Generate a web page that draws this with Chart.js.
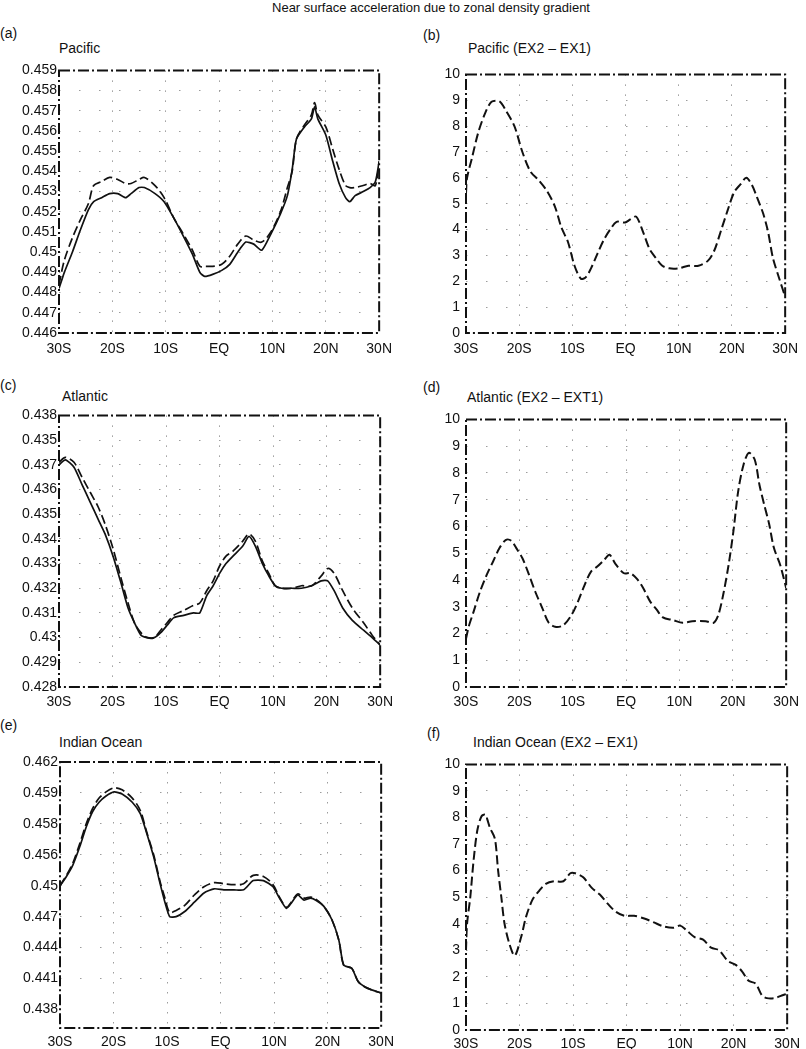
<!DOCTYPE html>
<html>
<head>
<meta charset="utf-8">
<script src="https://cdn.jsdelivr.net/npm/chart.js@4.4.1/dist/chart.umd.min.js"></script>
<style>
  body { margin: 0; background: #fff; font-family: "Liberation Sans", Arial, sans-serif; color: #111; }
  #page { position: relative; width: 806px; height: 1049px; overflow: hidden; }
  .lbl { position: absolute; font-size: 14px; line-height: 16px; white-space: nowrap; }
  canvas { position: absolute; }
</style>
</head>
<body>
<div id="page">
  <div class="lbl" style="left:0;top:0;width:862px;text-align:center;font-size:13px;">Near surface acceleration due to zonal density gradient</div>

  <div class="lbl" style="left:0;top:25px;">(a)</div>
  <div class="lbl" style="left:59px;top:40px;">Pacific</div>
  <div class="lbl" style="left:423px;top:27px;">(b)</div>
  <div class="lbl" style="left:468px;top:40px;">Pacific (EX2 – EX1)</div>

  <div class="lbl" style="left:0;top:377px;">(c)</div>
  <div class="lbl" style="left:62px;top:388px;">Atlantic</div>
  <div class="lbl" style="left:423px;top:379px;">(d)</div>
  <div class="lbl" style="left:467px;top:389px;">Atlantic (EX2 – EXT1)</div>

  <div class="lbl" style="left:0;top:717px;">(e)</div>
  <div class="lbl" style="left:59px;top:734px;">Indian Ocean</div>
  <div class="lbl" style="left:427px;top:725px;">(f)</div>
  <div class="lbl" style="left:473px;top:734px;">Indian Ocean (EX2 – EX1)</div>

  <canvas id="chartA" width="400" height="300" style="left:0;top:60px;"></canvas>
  <canvas id="chartB" width="406" height="300" style="left:400px;top:60px;"></canvas>
  <canvas id="chartC" width="400" height="304" style="left:0;top:405px;"></canvas>
  <canvas id="chartD" width="406" height="304" style="left:400px;top:405px;"></canvas>
  <canvas id="chartE" width="400" height="299" style="left:0;top:750px;"></canvas>
  <canvas id="chartF" width="406" height="299" style="left:400px;top:750px;"></canvas>
</div>

<script>
// x axis (latitude)
var latTicks = [-30, -20, -10, 0, 10, 20, 30];
var latLabels = ["30S", "20S", "10S", "EQ", "10N", "20N", "30N"];

// (a) Pacific
var latA = [-30, -29, -27.5, -26, -24.5, -23.5, -22, -20.5, -19, -17.5, -16.5, -15, -14, -12, -10.3, -8.5, -6.7, -5, -3.6, -2.7, -1.2, 0.5, 2, 3.5, 5, 6.5, 8, 9.7, 11.5, 12.8, 13.7, 14.5, 16, 17.3, 17.9, 18.5, 20, 21.3, 22.5, 23.7, 24.5, 25.5, 27, 28.3, 29.3, 30];
var pacEx1 = [0.4482, 0.4490, 0.4500, 0.4511, 0.4521, 0.4525, 0.4527, 0.4529, 0.4529, 0.4527, 0.4529, 0.4532, 0.4532, 0.4529, 0.4525, 0.4517, 0.4508, 0.4499, 0.4490, 0.4488, 0.4489, 0.4491, 0.4494, 0.4500, 0.4505, 0.4504, 0.4501, 0.4509, 0.4519, 0.4528, 0.4541, 0.4556, 0.4562, 0.4566, 0.4572, 0.4566, 0.4558, 0.4545, 0.4534, 0.4527, 0.4525, 0.4528, 0.4530, 0.4532, 0.4535, 0.4545];
var pacEx2 = [0.4484, 0.4496, 0.4507, 0.4516, 0.4524, 0.4533, 0.4535, 0.4537, 0.4536, 0.4534, 0.4534, 0.4536, 0.4537, 0.4533, 0.4527, 0.4517, 0.4509, 0.4501, 0.4493, 0.4493, 0.4493, 0.4494, 0.4498, 0.4504, 0.4508, 0.4506, 0.4505, 0.4510, 0.4520, 0.4532, 0.4540, 0.4556, 0.4563, 0.4568, 0.4574, 0.4568, 0.4562, 0.4551, 0.4541, 0.4533, 0.4532, 0.4532, 0.4533, 0.4534, 0.4533, 0.4545];
var ticksA = [0.446, 0.447, 0.448, 0.449, 0.450, 0.451, 0.452, 0.453, 0.454, 0.455, 0.456, 0.457, 0.458, 0.459];
var labelsA = ["0.446", "0.447", "0.448", "0.449", "0.45", "0.451", "0.452", "0.453", "0.454", "0.455", "0.456", "0.457", "0.458", "0.459"];

// (b) Pacific EX2 - EX1
var latB = [-30, -29.8, -28.9, -27.7, -26.4, -25.2, -23.7, -22.5, -20.9, -19.4, -17.9, -16.3, -14.8, -13.3, -12.1, -10.8, -9.6, -8.4, -7.5, -6.5, -5.3, -4.1, -2.9, -1.7, -0.1, 0.8, 2, 3.3, 4.5, 5.7, 6.9, 8.2, 10, 11.8, 13.7, 15.5, 16.7, 18, 19.2, 20.4, 21.6, 22.7, 23.8, 24.7, 25.9, 26.8, 27.7, 28.9, 30];
var pacDiff = [5.4, 6.0, 6.75, 7.75, 8.5, 8.94, 8.96, 8.6, 8.0, 7.0, 6.25, 5.9, 5.5, 4.9, 4.1, 3.5, 2.6, 2.1, 2.15, 2.5, 3.06, 3.6, 4.0, 4.3, 4.27, 4.38, 4.5, 3.9, 3.25, 2.9, 2.6, 2.5, 2.5, 2.6, 2.6, 2.8, 3.2, 4.0, 4.75, 5.44, 5.75, 6.0, 5.7, 5.25, 4.6, 3.9, 2.9, 2.1, 1.4];

// (c) Atlantic
var latC = [-30, -28.8, -27.2, -25.7, -24.2, -22.7, -21.4, -19.9, -18.4, -17.1, -15.9, -14.7, -13.5, -12.2, -11, -9.8, -8.6, -6.7, -4.9, -3.7, -2.4, -1.2, 0, 1.2, 2.5, 4.3, 5.5, 6.7, 8, 9.2, 10.4, 11.6, 13.5, 15.3, 17.2, 19, 20.2, 21.4, 23, 24.8, 26.9, 28.5, 30];
var atlEx1 = [0.4370, 0.4372, 0.4369, 0.4362, 0.4355, 0.4348, 0.4342, 0.4333, 0.4322, 0.4312, 0.4306, 0.4301, 0.4300, 0.4300, 0.4302, 0.4305, 0.4308, 0.4309, 0.4310, 0.4310, 0.4317, 0.4321, 0.4326, 0.4330, 0.4333, 0.4337, 0.4341, 0.4337, 0.4330, 0.4325, 0.4321, 0.4320, 0.4320, 0.4320, 0.4321, 0.4323, 0.4323, 0.4319, 0.4312, 0.4307, 0.4303, 0.4300, 0.4297];
var atlEx2 = [0.4371, 0.4373, 0.4371, 0.4365, 0.4359, 0.4353, 0.4346, 0.4336, 0.4324, 0.4314, 0.4306, 0.4302, 0.4300, 0.4300, 0.4303, 0.4306, 0.4309, 0.4311, 0.4313, 0.4314, 0.4319, 0.4323, 0.4329, 0.4333, 0.4335, 0.4339, 0.4342, 0.4339, 0.4331, 0.4326, 0.4321, 0.4320, 0.4320, 0.4321, 0.4321, 0.4325, 0.4328, 0.4326, 0.4319, 0.4312, 0.4306, 0.4301, 0.4297];
var ticksC = [0.428, 0.429, 0.430, 0.431, 0.432, 0.433, 0.434, 0.435, 0.436, 0.437, 0.438, 0.439];
var labelsC = ["0.428", "0.429", "0.43", "0.431", "0.432", "0.433", "0.434", "0.435", "0.436", "0.437", "0.435", "0.438"];

// (d) Atlantic EX2 - EXT1
var latD = [-30, -29.5, -28.6, -27.4, -26.1, -24.9, -23.7, -22.5, -21.5, -20.6, -19.4, -18.2, -17, -15.7, -14.5, -13.3, -11.8, -10.2, -9, -7.8, -6.6, -5.4, -4.1, -3.1, -2, -0.4, 0.8, 2, 3.2, 4.5, 5.7, 6.9, 8.8, 10.6, 12.4, 14.9, 16.4, 17.3, 18.2, 19.2, 20.1, 21, 22, 23, 24.1, 25, 25.9, 26.8, 27.7, 28.9, 30];
var atlDiff = [1.8, 2.25, 2.8, 3.55, 4.2, 4.7, 5.2, 5.5, 5.46, 5.2, 4.8, 4.2, 3.55, 2.95, 2.4, 2.25, 2.3, 2.7, 3.2, 3.8, 4.3, 4.5, 4.75, 4.94, 4.6, 4.25, 4.25, 4.05, 3.7, 3.2, 2.9, 2.6, 2.5, 2.4, 2.46, 2.46, 2.4, 2.7, 3.45, 4.55, 5.8, 7.3, 8.3, 8.75, 8.5, 7.55, 6.8, 6.1, 5.2, 4.55, 3.7];

// (e) Indian Ocean
var latE = [-30, -28.8, -27.6, -26.3, -25.1, -23.9, -22.7, -21.4, -19.9, -18.4, -16.5, -15, -13.8, -12.5, -11.3, -10.4, -9.5, -8.3, -6.7, -4.9, -3.1, -1.2, 0.6, 2.5, 4.3, 6.1, 8, 9.8, 11, 12.3, 13.2, 14.4, 15.6, 16.8, 17.8, 19.3, 20.8, 22.1, 23, 24.5, 25.7, 26.9, 28.2, 30];
var indEx1 = [0.4500, 0.4509, 0.4520, 0.4538, 0.4557, 0.4572, 0.4581, 0.4587, 0.4591, 0.4589, 0.4581, 0.4570, 0.4551, 0.4528, 0.4502, 0.4484, 0.4470, 0.4470, 0.4475, 0.4484, 0.4493, 0.4497, 0.4496, 0.4496, 0.4496, 0.4505, 0.4505, 0.4499, 0.4488, 0.4478, 0.4483, 0.4491, 0.4486, 0.4488, 0.4486, 0.4480, 0.4467, 0.4447, 0.4423, 0.4420, 0.4407, 0.4402, 0.4399, 0.4396];
var indEx2 = [0.4500, 0.4510, 0.4522, 0.4541, 0.4560, 0.4575, 0.4585, 0.4591, 0.4595, 0.4593, 0.4585, 0.4573, 0.4552, 0.4530, 0.4504, 0.4488, 0.4474, 0.4476, 0.4481, 0.4491, 0.4499, 0.4503, 0.4502, 0.4501, 0.4502, 0.4510, 0.4509, 0.4501, 0.4489, 0.4479, 0.4484, 0.4492, 0.4488, 0.4489, 0.4487, 0.4480, 0.4467, 0.4447, 0.4423, 0.4420, 0.4407, 0.4402, 0.4399, 0.4396];
var ticksE = [0.438, 0.441, 0.444, 0.447, 0.450, 0.453, 0.456, 0.459, 0.462];
var labelsE = ["0.438", "0.441", "0.444", "0.447", "0.45", "0.456", "0.458", "0.459", "0.462"];

// (f) Indian Ocean EX2 - EX1
var latF = [-30, -29.8, -29.2, -28.6, -27.9, -27.1, -26.4, -25.5, -24.6, -24, -23.4, -22.8, -21.9, -20.9, -19.7, -18.8, -17.6, -16.3, -15.1, -13.6, -11.8, -10.5, -9.6, -8.1, -6.5, -5, -3.5, -2, -0.4, 1.4, 3.3, 5.1, 6.9, 8.8, 10, 11.2, 12.7, 14.3, 15.8, 17.3, 18.9, 20.4, 21.6, 22.8, 24.1, 25.3, 26.2, 27.7, 29, 30];
var indDiff = [3.0, 4.0, 5.0, 6.35, 7.5, 8.05, 8.1, 7.6, 7.2, 6.0, 5.0, 4.0, 3.25, 2.8, 3.5, 4.25, 4.9, 5.25, 5.5, 5.6, 5.6, 5.9, 5.9, 5.75, 5.35, 5.1, 4.75, 4.45, 4.3, 4.3, 4.2, 4.05, 3.9, 3.85, 3.93, 3.75, 3.5, 3.4, 3.1, 3.0, 2.6, 2.45, 2.2, 1.85, 1.75, 1.3, 1.2, 1.2, 1.3, 1.37];

// difference panels share one axis
var ticksDiff = [0, 1, 2, 3, 4, 5, 6, 7, 8, 9, 10];
var labelsDiff = ["0", "1", "2", "3", "4", "5", "6", "7", "8", "9", "10"];

var FONT = { family: "'Liberation Sans', Arial, sans-serif", size: 14 };
var GRID = "#9c9c9c";

// dash-dot frame round the plot area
var framePlugin = {
  id: "frame",
  afterDraw: function (chart) {
    var a = chart.chartArea, c = chart.ctx;
    c.save();
    c.strokeStyle = "#111";
    c.lineWidth = 2;
    c.setLineDash([11, 3, 2, 3]);
    c.strokeRect(a.left, a.top, a.right - a.left, a.bottom - a.top);
    c.restore();
  }
};

function pts(lat, vals) {
  return lat.map(function (x, i) { return { x: x, y: vals[i] }; });
}

function solid(lat, vals) {
  return { data: pts(lat, vals), borderColor: "#111", borderWidth: 1.7, pointRadius: 0, tension: 0.2, fill: false };
}
function dashed(lat, vals, w) {
  return { data: pts(lat, vals), borderColor: "#111", borderWidth: w, borderDash: [9, 4], pointRadius: 0, tension: 0.3, fill: false };
}

function edgeless(ctx) {
  var n = ctx.scale.ticks.length;
  return (ctx.index === 0 || ctx.index === n - 1) ? "rgba(0,0,0,0)" : GRID;
}

function panel(id, datasets, yTicks, yLabels, yMin, yMax, box) {
  new Chart(id, {
    type: "line",
    data: { datasets: datasets },
    plugins: [framePlugin],
    options: {
      responsive: false,
      animation: false,
      layout: { padding: { top: box.top, right: box.right, left: 0, bottom: 0 } },
      plugins: { legend: { display: false }, tooltip: { enabled: false } },
      scales: {
        x: {
          type: "linear", min: -30, max: 30,
          afterBuildTicks: function (s) { s.ticks = latTicks.map(function (v) { return { value: v }; }); },
          afterFit: function (s) { s.height = box.xh; },
          ticks: { callback: function (v, i) { return latLabels[i]; }, font: FONT, color: "#111", padding: box.xpad, maxRotation: 0, autoSkip: false },
          grid: { drawTicks: false, color: edgeless, lineWidth: 1 },
          border: { display: false, dash: [1.5, 8.5] }
        },
        y: {
          type: "linear", min: yMin, max: yMax,
          afterBuildTicks: function (s) { s.ticks = yTicks.map(function (v) { return { value: v }; }); },
          afterFit: function (s) { s.width = box.yw; },
          ticks: { callback: function (v, i) { return yLabels[i]; }, font: FONT, color: "#111", padding: box.pad, autoSkip: false },
          grid: { drawTicks: false, color: edgeless, lineWidth: 1 },
          border: { display: false, dash: [1.5, 18.5] }
        }
      }
    }
  });
}

panel("chartA", [solid(latA, pacEx1), dashed(latA, pacEx2, 1.7)], ticksA, labelsA, 0.446, 0.459,
  { top: 7, right: 12, yw: 59, xh: 27, pad: 2, xpad: 8 });
panel("chartB", [dashed(latB, pacDiff, 2)], ticksDiff, labelsDiff, 0, 10,
  { top: 7, right: 14, yw: 66, xh: 27, pad: 6, xpad: 8 });
panel("chartC", [solid(latC, atlEx1), dashed(latC, atlEx2, 1.7)], ticksC, labelsC, 0.428, 0.439,
  { top: 10, right: 13, yw: 59, xh: 22, pad: 2, xpad: 7 });
panel("chartD", [dashed(latD, atlDiff, 2)], ticksDiff, labelsDiff, 0, 10,
  { top: 11, right: 14, yw: 66, xh: 22, pad: 6, xpad: 7 });
panel("chartE", [solid(latE, indEx1), dashed(latE, indEx2, 1.7)], ticksE, labelsE, 0.4362, 0.462,
  { top: 12, right: 13, yw: 60, xh: 21, pad: 2, xpad: 6 });
panel("chartF", [dashed(latF, indDiff, 2)], ticksDiff, labelsDiff, 0, 10,
  { top: 12, right: 14, yw: 66, xh: 19, pad: 6, xpad: 6 });
</script>
</body>
</html>
